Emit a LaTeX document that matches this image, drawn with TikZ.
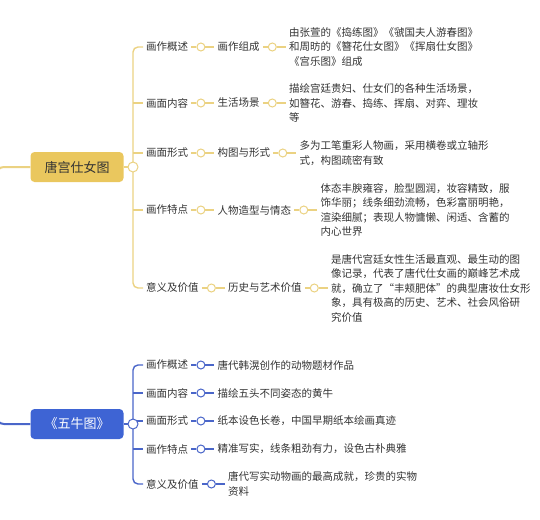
\documentclass[tikz,border=0pt]{standalone}
\usepackage{fontspec}
\setmainfont{Noto Sans CJK SC}
\usetikzlibrary{positioning}
\definecolor{gold}{HTML}{EAC75E}
\definecolor{goldline}{HTML}{EBD282}
\definecolor{royal}{HTML}{3E64D4}
\definecolor{royalline}{HTML}{4A66C9}
\definecolor{ink}{HTML}{333333}
\pgfdeclarelayer{bg}
\pgfsetlayers{bg,main}

\begin{document}
\begin{tikzpicture}[x=1pt, y=-1pt,
    root/.style={rectangle, rounded corners=4pt, minimum width=93pt, minimum height=30pt, font=\fontsize{13pt}{15pt}\selectfont},
    lbl/.style={inner xsep=3pt, inner ysep=1pt, anchor=west, text=ink, font=\fontsize{10.5pt}{14.5pt}\selectfont},
    para/.style={lbl, align=left},
    dot/.style={circle, draw, fill=white, minimum size=8pt, inner sep=0pt, line width=1pt},
    ydot/.style={dot, draw=goldline},
    bdot/.style={dot, draw=royalline},
    ylink/.style={draw=goldline, line width=1.4pt},
    blink/.style={draw=royalline, line width=1.4pt}]
    \useasboundingbox (0,0) rectangle (540,519);

    % 唐宫仕女图
    \node[root, fill=gold, text=ink] (tang) at (77,167) {唐宫仕女图};
    \node[ydot, minimum size=10pt] (tang-dot) at (133,167) {};

    \node[lbl] (y1) at (143,47) {画作概述};
    \node[ydot, right=5pt of y1] (y1-dot) {};
    \node[lbl, right=9pt of y1-dot] (y1-sub) {画作组成};
    \node[ydot, right=5pt of y1-sub] (y1-sub-dot) {};
    \node[para, right=9pt of y1-sub-dot] (y1-txt) {由张萱的《捣练图》《虢国夫人游春图》\\和周昉的《簪花仕女图》《挥扇仕女图》\\《宫乐图》组成};

    \node[lbl] (y2) at (143,103) {画面内容};
    \node[ydot, right=5pt of y2] (y2-dot) {};
    \node[lbl, right=9pt of y2-dot] (y2-sub) {生活场景};
    \node[ydot, right=5pt of y2-sub] (y2-sub-dot) {};
    \node[para, right=9pt of y2-sub-dot] (y2-txt) {描绘宫廷贵妇、仕女们的各种生活场景，\\如簪花、游春、捣练、挥扇、对弈、理妆\\等};

    \node[lbl] (y3) at (143,153) {画面形式};
    \node[ydot, right=5pt of y3] (y3-dot) {};
    \node[lbl, right=9pt of y3-dot] (y3-sub) {构图与形式};
    \node[ydot, right=5pt of y3-sub] (y3-sub-dot) {};
    \node[para, right=9pt of y3-sub-dot] (y3-txt) {多为工笔重彩人物画，采用横卷或立轴形\\式，构图疏密有致};

    \node[lbl] (y4) at (143,210) {画作特点};
    \node[ydot, right=5pt of y4] (y4-dot) {};
    \node[lbl, right=9pt of y4-dot] (y4-sub) {人物造型与情态};
    \node[ydot, right=5pt of y4-sub] (y4-sub-dot) {};
    \node[para, right=9pt of y4-sub-dot] (y4-txt) {体态丰腴雍容，脸型圆润，妆容精致，服\\饰华丽；线条细劲流畅，色彩富丽明艳，\\渲染细腻；表现人物慵懒、闲适、含蓄的\\内心世界};

    \node[lbl] (y5) at (143,288) {意义及价值};
    \node[ydot, right=5pt of y5] (y5-dot) {};
    \node[lbl, right=9pt of y5-dot] (y5-sub) {历史与艺术价值};
    \node[ydot, right=5pt of y5-sub] (y5-sub-dot) {};
    \node[para, right=9pt of y5-sub-dot] (y5-txt) {是唐代宫廷女性生活最直观、最生动的图\\像记录，代表了唐代仕女画的巅峰艺术成\\就，确立了“丰颊肥体”的典型唐妆仕女形\\象，具有极高的历史、艺术、社会风俗研\\究价值};

    % 《五牛图》
    \node[root, fill=royal, text=white] (wuniu) at (77,424) {《五牛图》};
    \node[bdot, minimum size=10pt] (wuniu-dot) at (133,424) {};

    \node[lbl] (b1) at (143,365) {画作概述};
    \node[bdot, right=5pt of b1] (b1-dot) {};
    \node[para, right=9pt of b1-dot] (b1-txt) {唐代韩滉创作的动物题材作品};

    \node[lbl] (b2) at (143,393) {画面内容};
    \node[bdot, right=5pt of b2] (b2-dot) {};
    \node[para, right=9pt of b2-dot] (b2-txt) {描绘五头不同姿态的黄牛};

    \node[lbl] (b3) at (143,421) {画面形式};
    \node[bdot, right=5pt of b3] (b3-dot) {};
    \node[para, right=9pt of b3-dot] (b3-txt) {纸本设色长卷，中国早期纸本绘画真迹};

    \node[lbl] (b4) at (143,449) {画作特点};
    \node[bdot, right=5pt of b4] (b4-dot) {};
    \node[para, right=9pt of b4-dot] (b4-txt) {精准写实，线条粗劲有力，设色古朴典雅};

    \node[lbl] (b5) at (143,484) {意义及价值};
    \node[bdot, right=5pt of b5] (b5-dot) {};
    \node[para, right=9pt of b5-dot] (b5-txt) {唐代写实动物画的最高成就，珍贵的实物\\资料};

    \coordinate (hub) at (-4,296);

    \begin{pgfonlayer}{bg}
        \draw[ylink, line width=2pt, rounded corners=8pt] (tang.west) -| (hub);
        \draw[blink, line width=2pt, rounded corners=8pt] (wuniu.west) -| (hub);
        \draw[ylink, line width=2pt] (tang) -- (tang-dot);
        \draw[blink, line width=2pt] (wuniu) -- (wuniu-dot);

        \draw[ylink, rounded corners=5pt] (y1.west) -| (tang-dot.center) |- (y5.west);
        \foreach \r in {y2,y3,y4}
            \draw[ylink] (tang-dot.center |- \r.west) -- (\r.west);
        \foreach \r in {y1,y2,y3,y4,y5} {
            \draw[ylink] (\r.east) -- (\r-dot) -- (\r-sub.west);
            \draw[ylink] (\r-sub.east) -- (\r-sub-dot) -- (\r-txt.west);
        }

        \draw[blink, rounded corners=5pt] (b1.west) -| (wuniu-dot.center) |- (b5.west);
        \foreach \r in {b2,b3,b4}
            \draw[blink] (wuniu-dot.center |- \r.west) -- (\r.west);
        \foreach \r in {b1,b2,b3,b4,b5}
            \draw[blink] (\r.east) -- (\r-dot) -- (\r-txt.west);
    \end{pgfonlayer}
\end{tikzpicture}
\end{document}
